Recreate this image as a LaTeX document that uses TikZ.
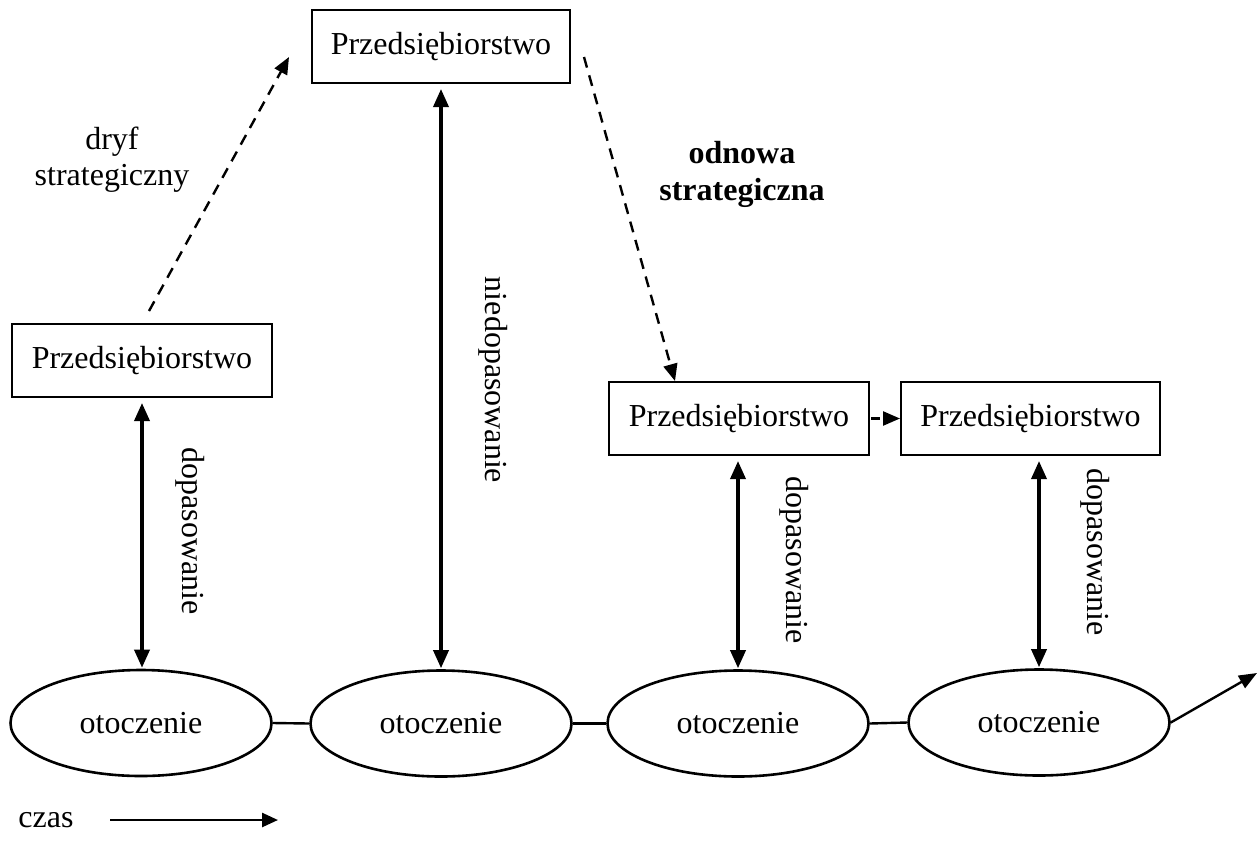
\documentclass[tikz,border=0pt]{standalone}
\usepackage{fontspec}
\setmainfont{Liberation Serif}
\usetikzlibrary{arrows.meta,shapes.geometric}

\tikzset{
  base/.style={font=\fontsize{32}{36}\selectfont},
  firm/.style={base, draw, line width=2pt, inner sep=0pt, minimum height=73pt},
  env/.style={base, draw, ellipse, line width=2.6pt, inner sep=0pt, minimum width=261pt, minimum height=106pt},
  fit/.style={line width=3.5pt, {Triangle[length=18pt,width=15pt]}-{Triangle[length=18pt,width=15pt]}, shorten <=5pt, shorten >=1pt},
  drift/.style={dash pattern=on 11pt off 8pt, line width=2.4pt, -{Triangle[length=17pt,width=14pt]}},
  link/.style={line width=2.4pt},
  vlabel/.style={base, rotate=-90, inner sep=0pt},
  note/.style={base, align=center, inner sep=0pt}
}

\begin{document}
\begin{tikzpicture}[x=1pt, y=-1pt]
\useasboundingbox (0,0) rectangle (1258,844);

% companies
\node[firm, minimum width=258pt] (T) at (441,46.5) {Przedsiębiorstwo};
\node[firm, minimum width=260pt] (L) at (142,360.5) {Przedsiębiorstwo};
\node[firm, minimum width=260pt] (A) at (739,418.5) {Przedsiębiorstwo};
\node[firm, minimum width=259pt] (B) at (1030.5,418.5) {Przedsiębiorstwo};

% environment over time
\node[env] (E1) at (141,723) {otoczenie};
\node[env] (E2) at (441,723.5) {otoczenie};
\node[env] (E3) at (738,723.5) {otoczenie};
\node[env] (E4) at (1039,722.5) {otoczenie};

\draw[link] (E1.east) -- (E2.west);
\draw[link] (E2.east) -- (E3.west);
\draw[link] (E3.east) -- (E4.west);
\coordinate (future) at (1257,673);
\draw[link, -{Triangle[length=18pt,width=14pt]}] (E4.east) -- (future);

% fit / misfit between company and environment
\draw[fit] (L.south) -- (L.south |- E1.north);
\draw[fit] (T.south) -- (T.south |- E2.north);
\draw[fit] (A.south -| E3.north) -- (E3.north);
\draw[fit] (B.south -| E4.north) -- (E4.north);

\node[vlabel] (d1) at (190,531) {dopasowanie};
\node[vlabel] (n2) at (493,380) {niedopasowanie};
\node[vlabel] (d3) at (794,560) {dopasowanie};
\node[vlabel] (d4) at (1095,552) {dopasowanie};

% strategic drift and renewal
\coordinate (driftStart) at (149,311);
\coordinate (driftEnd) at (289,57);
\draw[drift] (driftStart) -- (driftEnd);
\coordinate (renewStart) at (584,57);
\draw[drift] (renewStart) -- (A.north -| 675,0);
\draw[drift, dash pattern=on 9pt off 5pt, shorten <=1pt] (A.east) -- (B.west);

\node[note] (drf) at (112,160) {dryf\\strategiczny};
\node[note, font=\fontsize{32}{37}\selectfont\bfseries] (ren) at (742,174) {odnowa\\strategiczna};

% time axis
\node[base, inner sep=0pt] (czas) at (46,820) {czas};
\coordinate (czasEnd) at (278,820);
\draw[line width=2.6pt, -{Triangle[length=16pt,width=14pt]}] (110,820) -- (czasEnd);
\end{tikzpicture}
\end{document}
